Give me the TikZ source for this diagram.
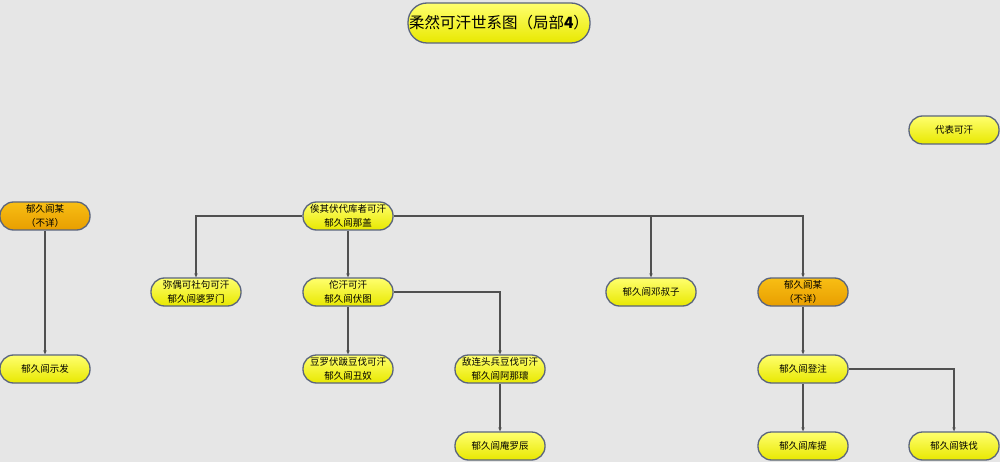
\documentclass[tikz,border=0pt]{standalone}
\usepackage{fontspec}
\setmainfont{Noto Sans CJK SC}
\usetikzlibrary{positioning, arrows.meta, calc}
\definecolor{bgc}{RGB}{230,230,230}
\definecolor{edgec}{RGB}{80,80,80}
\definecolor{rimc}{RGB}{90,100,125}
\tikzset{
	khan/.style={draw=rimc, line width=1.3pt, rounded corners=13.5pt, minimum width=90pt, minimum height=28pt, inner sep=1pt, align=center, font=\fontsize{9.5}{13.5}\selectfont, top color={rgb,255:red,255;green,255;blue,110}, bottom color={rgb,255:red,232;green,232;blue,0}},
	unk/.style={khan, top color={rgb,255:red,248;green,190;blue,20}, bottom color={rgb,255:red,232;green,158;blue,0}},
	lnk/.style={draw=edgec, line width=1.1pt, -{Stealth[length=4pt, width=3.5pt]}}
}
\begin{document}
\begin{tikzpicture}[x=1pt, y=-1pt]
		\fill[bgc] (0,0) rectangle (1000,462);
		\useasboundingbox (0,0) rectangle (1000,462);
		
		\node[khan, minimum width=180pt, minimum height=40pt, rounded corners=19pt, font=\fontsize{15.5}{18}\selectfont] (title) at (499,23) {柔然可汗世系图（局部\textbf{4}）};
		\node[khan] (legend) at (954,130) {代表可汗};
		
		\node[unk] (unkL) at (45,216) {郁久闾某\\（不详）};
		\node[khan] (root) at (348,216) {俟其伏代库者可汗\\郁久闾那盖};
		
		\node[khan] (miou) at (196,292) {弥偶可社句可汗\\郁久闾婆罗门};
		\node[khan] (tuohan) at (348,292) {佗汗可汗\\郁久闾伏图};
		\node[khan] (dsz) at (651,292) {郁久闾邓叔子};
		\node[unk] (unkR) at (803,292) {郁久闾某\\（不详）};
		
		\node[khan] (shifa) at (45,369) {郁久闾示发};
		\node[khan] (douluo) at (348,369) {豆罗伏跋豆伐可汗\\郁久闾丑奴};
		\node[khan] (dilian) at (500,369) {敌连头兵豆伐可汗\\郁久闾阿那瓌};
		\node[khan] (dengzhu) at (803,369) {郁久闾登注};
		
		\node[khan] (anluo) at (500,446) {郁久闾庵罗辰};
		\node[khan] (kuti) at (803,446) {郁久闾库提};
		\node[khan] (tiefa) at (954,446) {郁久闾铁伐};
		
		\draw[lnk] (unkL) -- (shifa);
		\draw[lnk] (root.west) -| (miou);
		\draw[lnk] (root) -- (tuohan);
		\draw[lnk] (root.east) -| (dsz);
		\draw[lnk] (root.east) -| (unkR);
		\draw[lnk] (tuohan) -- (douluo);
		\draw[lnk] (tuohan.east) -| (dilian);
		\draw[lnk] (dilian) -- (anluo);
		\draw[lnk] (unkR) -- (dengzhu);
		\draw[lnk] (dengzhu) -- (kuti);
		\draw[lnk] (dengzhu.east) -| (tiefa);
\end{tikzpicture}
\end{document}
